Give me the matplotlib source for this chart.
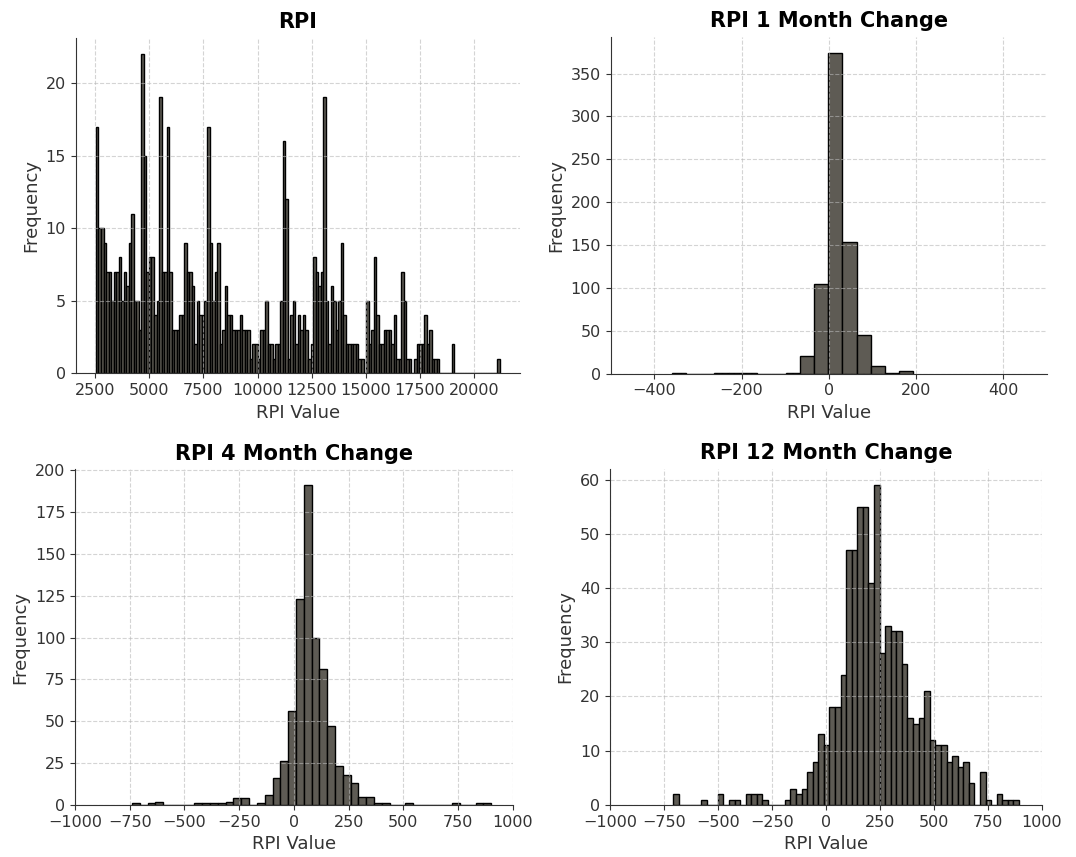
import numpy as np
import matplotlib
matplotlib.use("Agg")
import matplotlib.pyplot as plt

# histogram counts (one value per bin)
rpi_counts = [17, 10, 10, 9, 7, 7, 5, 7, 7, 8, 5, 7, 6, 9, 11, 5, 5, 3,
              22,
              15, 7, 8, 8, 4, 5,
              19,
              7, 7,
              17,
              7, 3, 3, 3, 4, 4, 9,
              7, 7, 6, 2, 5, 4, 4, 5,
              17,
              9, 5, 7, 9, 2, 3, 6,
              4, 4, 3, 3, 3, 4, 3, 3, 3, 1, 2, 2, 1, 3, 3, 5, 2, 2, 1, 2, 2, 5,
              16, 12,
              1, 4, 5, 2, 4, 3, 4, 3, 1, 2, 8, 7, 6, 7,
              19,
              5, 2, 6, 5, 3, 5, 9, 4,
              2, 2, 2, 2, 2,
              1, 1, 0,
              5, 2, 3, 8, 4, 2,
              2, 3, 3, 3, 2, 4, 1, 1,
              7, 5,
              1, 1, 0, 1, 2, 2, 2, 4, 2, 3, 1, 1, 1,
              0, 0, 0, 0, 0,
              2,
              0, 0, 0, 0, 0, 0, 0, 0, 0, 0, 0, 0, 0, 0, 0, 0, 0,
              1]
rpi_range = (2529, 21205)

m1_counts = [1, 0, 0, 1, 1, 1, 0, 0, 1, 21, 105, 374, 154, 45, 9, 1, 3]
m1_range = (-360, 194)

m4_counts = [1, 0, 1, 2, 0, 0, 0, 0, 1, 1, 1, 1, 2, 4, 4, 0, 1, 6, 16, 26,
             56, 123, 191, 100, 81, 47, 23, 18, 13, 5, 5, 1, 1, 0, 0, 1, 0, 0, 0, 0,
             0, 1, 0, 0, 1, 1]
m4_range = (-740, 902)

m12_counts = [2, 0, 0, 0, 0, 1, 0, 0, 2, 0,
              1, 1, 0, 2, 2, 2, 1, 0, 0, 0,
              1, 3, 2, 3, 6, 8, 13, 11, 18, 18,
              24, 47, 47, 55, 55, 41, 59, 28, 33, 32,
              32, 26, 16, 15, 16, 21, 12, 11, 11, 8,
              9, 7, 8, 4, 0, 6, 1, 0, 2, 1,
              1, 1]
m12_range = (-707, 895)

titles = ['RPI', 'RPI 1 Month Change', 'RPI 4 Month Change', 'RPI 12 Month Change']
panels = [(rpi_counts, rpi_range), (m1_counts, m1_range),
          (m4_counts, m4_range), (m12_counts, m12_range)]

# axes boxes in figure fractions [left, bottom, width, height]
boxes = [[0.0704, 0.5644, 0.4129, 0.3913],
         [0.5676, 0.5640, 0.4054, 0.3928],
         [0.0697, 0.0607, 0.4068, 0.3917],
         [0.5669, 0.0607, 0.4012, 0.3921]]

bar_color = '#5e5b54'
text_color = '#333333'

fig = plt.figure(figsize=(10.76, 8.57), dpi=100)

for i in range(4):
    counts, (lo, hi) = panels[i]
    edges = np.linspace(lo, hi, len(counts) + 1)
    mids = (edges[:-1] + edges[1:]) / 2
    ax = fig.add_axes(boxes[i])
    ax.hist(mids, bins=edges, weights=counts, color=bar_color,
            edgecolor='black', linewidth=1.0)
    ax.set_title(titles[i], fontsize=15, fontweight='bold', pad=7)
    ax.set_xlabel('RPI Value', fontsize=13, color=text_color)
    ax.set_ylabel('Frequency', fontsize=13, color=text_color)
    ax.grid(True, linestyle='--', color='#b8b8b8', alpha=0.6, linewidth=0.8)
    ax.spines['top'].set_visible(False)
    ax.spines['right'].set_visible(False)
    for s in ['left', 'bottom']:
        ax.spines[s].set_color(text_color)
    ax.tick_params(labelsize=11.5, colors=text_color)

    if i == 0:
        ax.set_xticks(np.arange(2500, 20001, 2500))
    elif i == 1:
        ax.set_xlim(-500, 500)
    else:
        ax.set_xlim(-1000, 1000)
        ax.set_xticks(np.arange(-1000, 1001, 250))

plt.savefig('out.png', dpi=100)
